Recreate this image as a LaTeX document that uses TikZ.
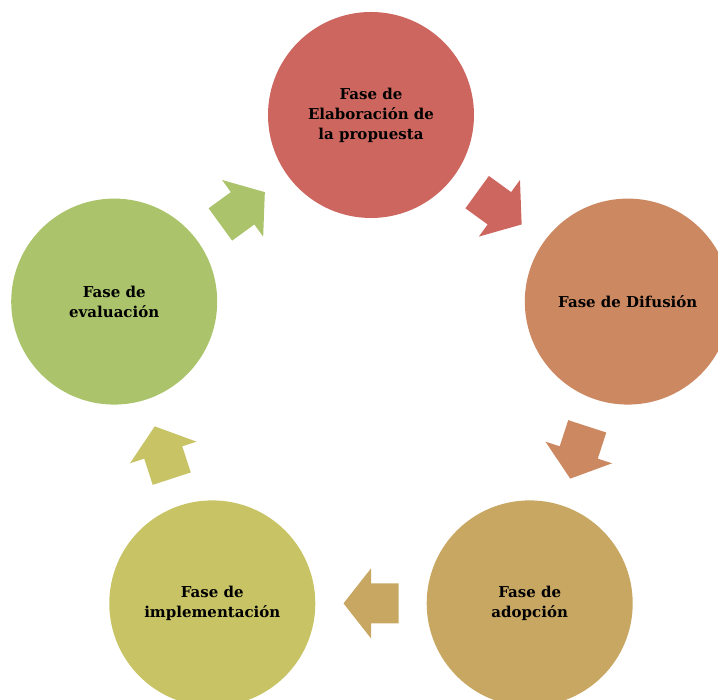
\documentclass[tikz,border=0pt]{standalone}
\usepackage{fontspec}
\setmainfont{DejaVu Serif}
\usetikzlibrary{calc}
\definecolor{cred}{RGB}{205,102,95}
\definecolor{corange}{RGB}{204,136,97}
\definecolor{ctan}{RGB}{200,167,98}
\definecolor{cyellow}{RGB}{200,196,101}
\definecolor{cgreen}{RGB}{171,196,108}
\tikzset{
  phase/.style={circle, minimum size=206pt, inner sep=0pt, align=center,
    font=\fontsize{15}{20}\selectfont\bfseries, text=black},
  cycarrow/.pic={\fill[pic actions] (27.5,0) -- (0,35) -- (0,20) -- (-27.5,20)
     -- (-27.5,-20) -- (0,-20) -- (0,-35) -- cycle;}
}
\begin{document}
\begin{tikzpicture}[x=1pt,y=1pt]
\clip (0,0) rectangle (718,700);
\useasboundingbox (0,0) rectangle (718,700);
\node[phase, fill=cred]    (p1) at (371,585)     {Fase de\\Elaboración de\\la propuesta};
\node[phase, fill=corange] (p2) at (627.8,398.4) {Fase de Difusión};
\node[phase, fill=ctan]    (p3) at (529.7,96.6)  {Fase de\\adopción};
\node[phase, fill=cyellow] (p4) at (212.3,96.6)  {Fase de\\implementación};
\node[phase, fill=cgreen]  (p5) at (114.2,398.4) {Fase de\\evaluación};
\pic[fill=cred, rotate=-36]     at ($(p1)!0.5!(p2)$) {cycarrow};
\pic[fill=corange, rotate=-108] at ($(p2)!0.5!(p3)$) {cycarrow};
\pic[fill=ctan, rotate=180]     at ($(p3)!0.5!(p4)$) {cycarrow};
\pic[fill=cyellow, rotate=108]  at ($(p4)!0.5!(p5)$) {cycarrow};
\pic[fill=cgreen, rotate=36]    at ($(p5)!0.5!(p1)$) {cycarrow};
\end{tikzpicture}
\end{document}
